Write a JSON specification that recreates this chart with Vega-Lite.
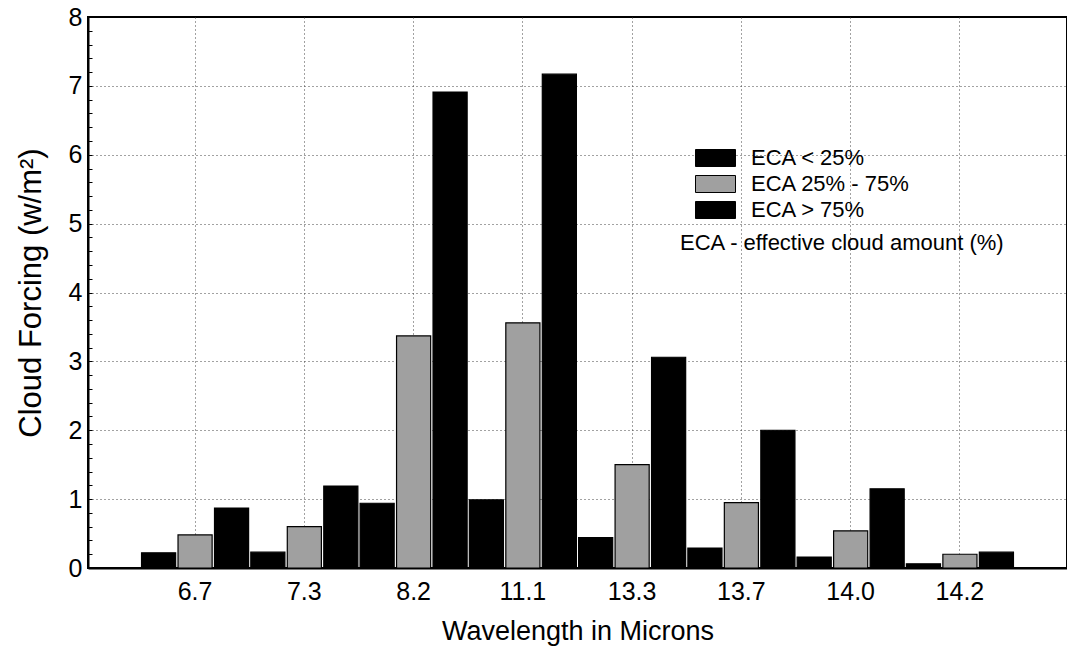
{
  "$schema": "https://vega.github.io/schema/vega-lite/v6.json",
  "width": 979,
  "height": 551,
  "autosize": {"type": "none"},
  "padding": {"left": 88, "top": 17, "right": 0, "bottom": 90},
  "background": "white",
  "config": {
    "view": {"stroke": "black", "strokeWidth": 2},
    "font": "Liberation Sans"
  },
  "data": {
    "values": [
      {"wavelength": "6.7", "series": "ECA < 25%", "forcing": 0.22},
      {"wavelength": "6.7", "series": "ECA 25% - 75%", "forcing": 0.48},
      {"wavelength": "6.7", "series": "ECA > 75%", "forcing": 0.87},
      {"wavelength": "7.3", "series": "ECA < 25%", "forcing": 0.23},
      {"wavelength": "7.3", "series": "ECA 25% - 75%", "forcing": 0.6},
      {"wavelength": "7.3", "series": "ECA > 75%", "forcing": 1.19},
      {"wavelength": "8.2", "series": "ECA < 25%", "forcing": 0.94},
      {"wavelength": "8.2", "series": "ECA 25% - 75%", "forcing": 3.37},
      {"wavelength": "8.2", "series": "ECA > 75%", "forcing": 6.91},
      {"wavelength": "11.1", "series": "ECA < 25%", "forcing": 0.99},
      {"wavelength": "11.1", "series": "ECA 25% - 75%", "forcing": 3.56},
      {"wavelength": "11.1", "series": "ECA > 75%", "forcing": 7.17},
      {"wavelength": "13.3", "series": "ECA < 25%", "forcing": 0.44},
      {"wavelength": "13.3", "series": "ECA 25% - 75%", "forcing": 1.5},
      {"wavelength": "13.3", "series": "ECA > 75%", "forcing": 3.06},
      {"wavelength": "13.7", "series": "ECA < 25%", "forcing": 0.29},
      {"wavelength": "13.7", "series": "ECA 25% - 75%", "forcing": 0.95},
      {"wavelength": "13.7", "series": "ECA > 75%", "forcing": 2.0},
      {"wavelength": "14.0", "series": "ECA < 25%", "forcing": 0.16},
      {"wavelength": "14.0", "series": "ECA 25% - 75%", "forcing": 0.54},
      {"wavelength": "14.0", "series": "ECA > 75%", "forcing": 1.15},
      {"wavelength": "14.2", "series": "ECA < 25%", "forcing": 0.06},
      {"wavelength": "14.2", "series": "ECA 25% - 75%", "forcing": 0.2},
      {"wavelength": "14.2", "series": "ECA > 75%", "forcing": 0.23}
    ]
  },
  "mark": {"type": "bar", "stroke": "black", "strokeWidth": 1.2},
  "encoding": {
    "x": {
      "field": "wavelength",
      "type": "nominal",
      "sort": ["6.7", "7.3", "8.2", "11.1", "13.3", "13.7", "14.0", "14.2"],
      "scale": {"paddingInner": 0, "paddingOuter": 0.48},
      "title": "Wavelength in Microns",
      "axis": {
        "labelAngle": 0,
        "labelFontSize": 25,
        "labelColor": "black",
        "labelPadding": 16,
        "titleFontSize": 27,
        "titleFontWeight": "normal",
        "titleColor": "black",
        "titlePadding": 14,
        "domainColor": "black",
        "domainWidth": 2,
        "tickColor": "black",
        "tickSize": -5,
        "tickBand": "center",
        "grid": true,
        "gridColor": "#444444",
        "gridDash": [1, 3],
        "gridWidth": 1
      }
    },
    "xOffset": {
      "field": "series",
      "type": "nominal",
      "sort": ["ECA < 25%", "ECA 25% - 75%", "ECA > 75%"],
      "scale": {"paddingInner": 0.065, "paddingOuter": 0.03}
    },
    "y": {
      "field": "forcing",
      "type": "quantitative",
      "scale": {"domain": [0, 8], "nice": false},
      "title": "Cloud Forcing (w/m²)",
      "axis": {
        "values": [0, 0.2, 0.4, 0.6, 0.8, 1, 1.2, 1.4, 1.6, 1.8, 2, 2.2, 2.4, 2.6, 2.8, 3, 3.2, 3.4, 3.6, 3.8, 4, 4.2, 4.4, 4.6, 4.8, 5, 5.2, 5.4, 5.6, 5.8, 6, 6.2, 6.4, 6.6, 6.8, 7, 7.2, 7.4, 7.6, 7.8, 8],
        "labelExpr": "abs(datum.value - round(datum.value)) < 0.001 ? format(datum.value, 'd') : ''",
        "labelOverlap": false,
        "labelFontSize": 25,
        "labelColor": "black",
        "labelPadding": 10,
        "titleFontSize": 31,
        "titleFontWeight": "normal",
        "titleColor": "black",
        "titlePadding": 21,
        "domainColor": "black",
        "domainWidth": 2,
        "tickColor": "black",
        "tickSize": -4,
        "grid": true,
        "gridColor": "#444444",
        "gridDash": [1, 3],
        "gridWidth": 1,
        "gridOpacity": {"condition": {"test": "abs(datum.value - round(datum.value)) < 0.001 && datum.value > 0 && datum.value < 8", "value": 1}, "value": 0}
      }
    },
    "color": {
      "field": "series",
      "type": "nominal",
      "scale": {
        "domain": ["ECA < 25%", "ECA 25% - 75%", "ECA > 75%"],
        "range": ["#000000", "#a0a0a0", "#000000"]
      },
      "legend": {
        "orient": "none",
        "legendX": 592,
        "legendY": 128,
        "title": "ECA - effective cloud amount (%)",
        "titleOrient": "bottom",
        "titleFontSize": 22,
        "titleFontWeight": "normal",
        "titleColor": "black",
        "titlePadding": 12,
        "titleLimit": 700,
        "symbolType": "M0.2,-0.68H3.4V0.68H0.2Z",
        "symbolSize": 625,
        "symbolStrokeColor": "black",
        "symbolStrokeWidth": 1,
        "symbolOpacity": 1,
        "labelFontSize": 22,
        "labelColor": "black",
        "labelOffset": 45,
        "labelLimit": 400,
        "rowPadding": 2,
        "padding": 0
      }
    }
  }
}
